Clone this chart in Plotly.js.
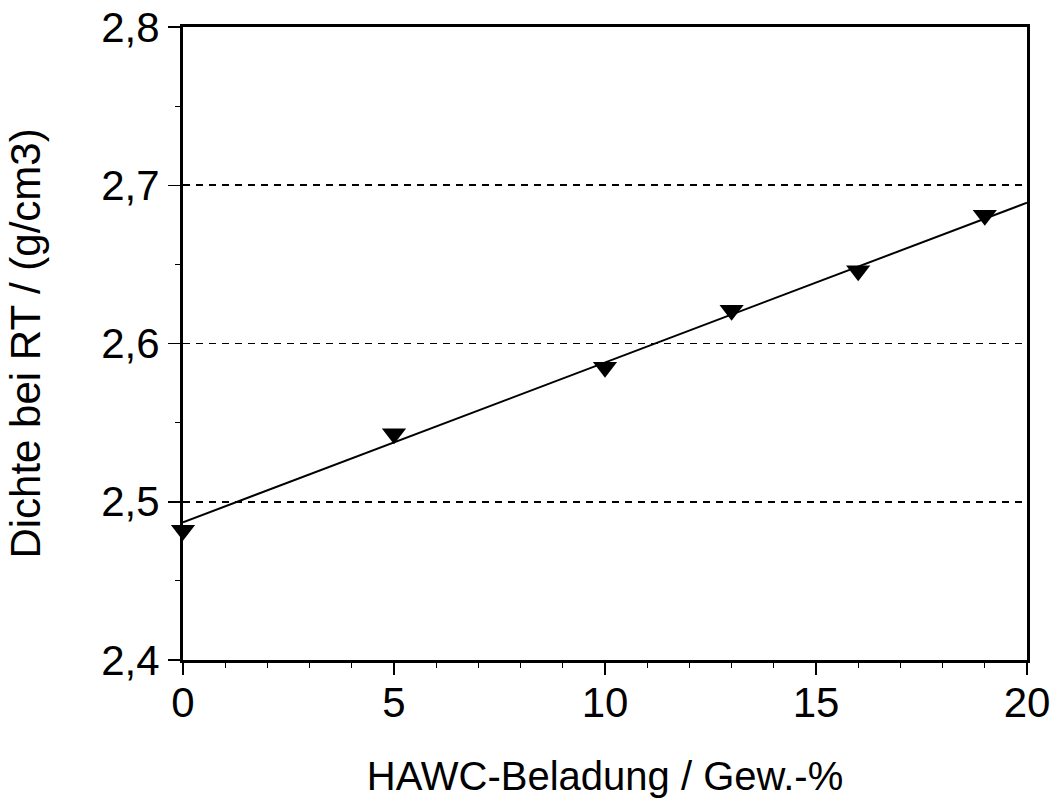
<!DOCTYPE html>
<html>
<head>
<meta charset="utf-8">
<script src="https://cdn.plot.ly/plotly-3.0.1.min.js"></script>
<style>html,body{margin:0;padding:0;background:#fff;}#chart{width:1051px;height:805px;}</style>
</head>
<body>
<div id="chart"></div>
<script>
// Measured points
const loading = [0, 5, 10, 13, 16, 19];
const density = [2.482, 2.543, 2.585, 2.621, 2.646, 2.681];
// Regression line end points
const fitX = [0, 20];
const fitY = [2.487, 2.689];
// Tick labels
const xTicks = [0, 5, 10, 15, 20];
const yTicks = [2.4, 2.5, 2.6, 2.7, 2.8];
const yTickText = ['2,4', '2,5', '2,6', '2,7', '2,8'];

const font = 'Liberation Sans, Arial, sans-serif';

const traces = [
  {x: fitX, y: fitY, mode: 'lines', line: {color: '#000', width: 2}, hoverinfo: 'skip', showlegend: false, cliponaxis: false},
  {x: loading, y: density, mode: 'markers', marker: {symbol: 'triangle-down', size: 21, color: '#000'}, showlegend: false, cliponaxis: false}
];

const layout = {
  width: 1051, height: 805,
  margin: {l: 183, r: 24, t: 27, b: 145},
  paper_bgcolor: '#fff', plot_bgcolor: '#fff',
  font: {family: font, color: '#000', size: 40},
  xaxis: {
    range: [0, 20], tickvals: xTicks, ticks: 'outside', ticklen: 12, tickwidth: 1.5, tickcolor: '#000',
    minor: {dtick: 1, ticks: 'outside', ticklen: 5, tickwidth: 1.2, tickcolor: '#000', showgrid: false},
    showline: true, linecolor: '#000', linewidth: 3, mirror: true,
    showgrid: false, zeroline: false,
    tickfont: {family: font, size: 42, color: '#000'},
    ticklabelstandoff: -8,
    title: {text: 'HAWC-Beladung / Gew.-%', font: {family: font, size: 40, color: '#000'}, standoff: 37}
  },
  yaxis: {
    range: [2.4, 2.8], tickvals: yTicks, ticktext: yTickText, ticks: 'outside', ticklen: 12, tickwidth: 1.5, tickcolor: '#000',
    minor: {dtick: 0.05, tick0: 2.4, ticks: 'outside', ticklen: 5, tickwidth: 1.2, tickcolor: '#000', showgrid: false},
    showline: true, linecolor: '#000', linewidth: 3, mirror: true,
    showgrid: true, gridcolor: '#000', gridwidth: 1.8, griddash: '7px,6px',
    zeroline: false,
    tickfont: {family: font, size: 42, color: '#000'},
    title: {text: 'Dichte bei RT / (g/cm3)', font: {family: font, size: 42, color: '#000'}, standoff: 48}
  }
};

Plotly.newPlot('chart', traces, layout, {displayModeBar: false, staticPlot: true});
</script>
</body>
</html>
